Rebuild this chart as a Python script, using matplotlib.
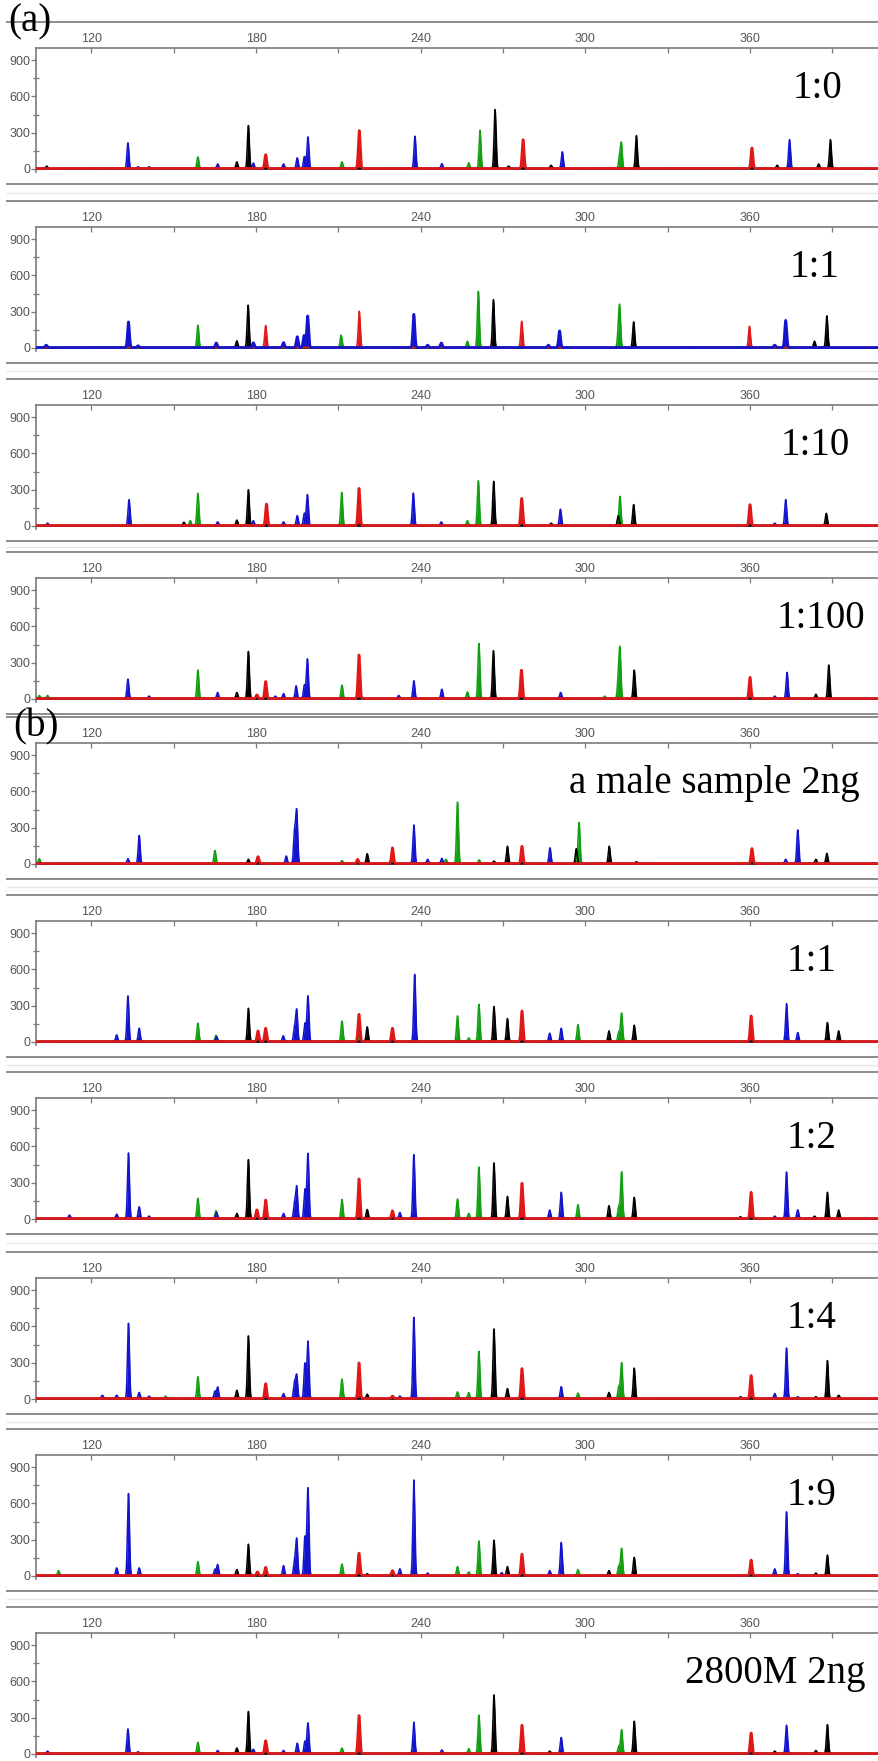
import numpy as np
import matplotlib
matplotlib.use('Agg')
import matplotlib.pyplot as plt
from matplotlib.lines import Line2D

W, H, DPI = 879, 1761, 100

# ---------------- data ----------------
x_ticks_major = [120, 180, 240, 300, 360]
x_ticks_minor = [150, 210, 270, 330, 390]
y_ticks_major = [0, 300, 600, 900]
y_ticks_minor = [150, 450, 750]

panel_labels = ['1:0', '1:1', '1:10', '1:100', 'a male sample 2ng',
                '1:1', '1:2', '1:4', '1:9', '2800M 2ng']
section_labels = ['(a)', '(b)']

# peaks per panel: size (bp), height (RFU), dye (b=blue, g=green, k=black, r=red)
p1_pos = [103.7, 133.3, 137, 141, 158.8, 166, 173, 177.2, 179, 183.5, 190, 195, 197.6, 198.9, 211.3, 217.6, 237.9, 247.7, 257.5, 261.6, 267.1, 272, 277.3, 287.5, 291.6, 312.4, 313.1, 318.6, 360.7, 369.9, 374.4, 385, 389.3]
p1_hgt = [20, 212, 15, 15, 96, 38, 55, 355, 45, 115, 38, 88, 100, 261, 55, 314, 267, 41, 47, 316, 487, 20, 239, 27, 138, 80, 206, 272, 171, 27, 239, 38, 239]
p1_dye = ['k', 'b', 'b', 'b', 'g', 'b', 'k', 'k', 'b', 'r', 'b', 'b', 'b', 'b', 'g', 'r', 'b', 'b', 'g', 'g', 'k', 'k', 'r', 'k', 'b', 'g', 'g', 'k', 'r', 'k', 'b', 'k', 'k']

p2_pos = [103.5, 133.5, 137, 158.8, 165.5, 173, 177.1, 179, 183.5, 190, 195, 197.5, 198.8, 211, 217.6, 237.5, 242.5, 247.5, 257, 261, 266.5, 276.8, 286.5, 290.6, 312, 312.5, 317.6, 359.8, 369, 373, 383.5, 388]
p2_hgt = [20, 212, 15, 184, 38, 55, 350, 40, 182, 41, 90, 100, 261, 102, 300, 275, 20, 38, 52, 465, 396, 217, 20, 138, 100, 316, 212, 176, 20, 225, 52, 261]
p2_dye = ['b', 'b', 'b', 'g', 'b', 'k', 'k', 'b', 'r', 'b', 'b', 'b', 'b', 'g', 'r', 'b', 'b', 'b', 'g', 'g', 'k', 'r', 'b', 'b', 'g', 'g', 'k', 'r', 'b', 'b', 'k', 'k']

p3_pos = [104, 133.7, 153.7, 156, 158.8, 166, 173, 177.2, 179, 183.8, 190, 195, 197.6, 198.7, 211.2, 217.5, 237.3, 247.5, 257, 261, 266.6, 276.8, 287.5, 290.9, 312, 312.6, 317.6, 360, 369, 373, 387.8]
p3_hgt = [20, 214, 27, 41, 266, 30, 45, 296, 40, 178, 30, 82, 100, 255, 274, 307, 269, 30, 40, 370, 365, 225, 20, 135, 80, 241, 173, 173, 20, 214, 101]
p3_dye = ['b', 'b', 'k', 'g', 'g', 'b', 'k', 'k', 'b', 'r', 'b', 'b', 'b', 'b', 'g', 'r', 'b', 'b', 'g', 'g', 'k', 'r', 'k', 'b', 'k', 'g', 'k', 'r', 'b', 'b', 'k']

p4_pos = [101, 104, 133.3, 141, 158.8, 166, 173, 177.2, 180.3, 183.5, 187, 190, 194.6, 197.6, 198.7, 211.3, 217.5, 232, 237.5, 247.7, 257, 261.2, 266.5, 276.7, 291, 307, 312, 312.6, 317.8, 360, 369, 373.5, 384, 388.7]
p4_hgt = [25, 25, 160, 20, 235, 50, 50, 390, 30, 141, 20, 41, 105, 110, 327, 110, 360, 25, 147, 77, 55, 455, 396, 235, 50, 20, 150, 388, 235, 175, 20, 216, 35, 277]
p4_dye = ['g', 'g', 'b', 'b', 'g', 'b', 'k', 'k', 'r', 'r', 'b', 'b', 'b', 'b', 'b', 'g', 'r', 'b', 'b', 'b', 'g', 'g', 'k', 'r', 'b', 'g', 'g', 'g', 'k', 'r', 'b', 'b', 'k', 'k']

p5_pos = [101, 133.3, 137.4, 165, 177.2, 180.7, 191, 194.0, 194.8, 211.3, 217, 220.5, 229.7, 237.5, 242.5, 247.7, 249.2, 253.4, 261.3, 266.7, 271.6, 276.9, 287.1, 296.7, 297.7, 308.7, 318.6, 360.7, 373, 377.4, 384, 388]
p5_hgt = [40, 40, 232, 108, 35, 57, 62, 250, 430, 25, 35, 81, 130, 319, 35, 43, 35, 508, 30, 20, 143, 143, 130, 122, 340, 143, 15, 124, 35, 278, 35, 84]
p5_dye = ['g', 'b', 'b', 'g', 'k', 'r', 'b', 'b', 'b', 'g', 'r', 'k', 'r', 'b', 'b', 'b', 'g', 'g', 'g', 'k', 'k', 'r', 'b', 'k', 'g', 'k', 'k', 'r', 'b', 'b', 'k', 'k']

p6_pos = [129.2, 133.3, 137.4, 158.8, 165.4, 165.6, 177.2, 180.7, 183.5, 189.9, 194.0, 194.8, 197.8, 198.9, 211.3, 217.3, 217.5, 220.5, 229.7, 237.8, 253.4, 257.5, 261.2, 266.7, 271.6, 276.9, 287, 291.2, 297.3, 308.6, 312.2, 313.2, 317.8, 360.4, 373.3, 377.4, 388.2, 392.3]
p6_hgt = [55, 377, 110, 151, 52, 40, 275, 88, 110, 47, 110, 260, 150, 377, 170, 30, 225, 121, 110, 555, 212, 30, 308, 289, 190, 253, 69, 110, 140, 88, 80, 234, 135, 212, 313, 74, 157, 88]
p6_dye = ['b', 'b', 'b', 'g', 'g', 'b', 'k', 'r', 'r', 'b', 'b', 'b', 'b', 'b', 'g', 'g', 'r', 'k', 'r', 'b', 'g', 'g', 'g', 'k', 'k', 'r', 'b', 'b', 'g', 'k', 'g', 'g', 'k', 'r', 'b', 'b', 'k', 'k']

p7_pos = [112, 129.2, 133.5, 137.4, 141, 158.8, 165.4, 165.6, 173, 177.2, 180.3, 183.5, 190, 194.0, 194.8, 197.8, 198.9, 211.3, 217.5, 220.5, 229.7, 232.4, 237.5, 253.4, 257.5, 261.2, 266.7, 271.6, 276.9, 287, 291.2, 297.3, 308.6, 312.2, 313.2, 317.8, 356.5, 360.4, 369, 373.3, 377.4, 383.5, 388.2, 392.3]
p7_hgt = [28, 36, 542, 97, 20, 167, 64, 50, 42, 487, 72, 153, 42, 120, 260, 240, 537, 158, 328, 75, 64, 50, 528, 161, 42, 425, 459, 183, 292, 70, 217, 114, 106, 100, 384, 175, 15, 217, 20, 384, 72, 20, 217, 70]
p7_dye = ['b', 'b', 'b', 'b', 'b', 'g', 'g', 'b', 'k', 'k', 'r', 'r', 'b', 'b', 'b', 'b', 'b', 'g', 'r', 'k', 'r', 'b', 'b', 'g', 'g', 'g', 'k', 'k', 'r', 'b', 'b', 'g', 'k', 'g', 'g', 'k', 'k', 'r', 'b', 'b', 'b', 'k', 'k', 'k']

p8_pos = [124, 129.2, 133.5, 137.4, 141, 147, 158.8, 165, 166, 173, 177.2, 183.5, 190, 194.0, 194.8, 197.8, 198.9, 211.3, 217.5, 220.5, 229.7, 232.4, 237.5, 253.4, 257.5, 261.2, 266.7, 271.6, 276.9, 291.2, 297.3, 308.6, 312.2, 313.2, 317.8, 356.5, 360.4, 369, 373.3, 377.4, 384, 388.2, 392.3]
p8_hgt = [27, 27, 622, 50, 20, 20, 180, 60, 95, 68, 518, 123, 40, 130, 190, 290, 472, 160, 295, 36, 20, 20, 671, 55, 50, 390, 575, 82, 248, 98, 45, 50, 100, 295, 251, 15, 191, 41, 417, 15, 15, 314, 27]
p8_dye = ['b', 'b', 'b', 'b', 'b', 'g', 'g', 'b', 'b', 'k', 'k', 'r', 'b', 'b', 'b', 'b', 'b', 'g', 'r', 'k', 'r', 'b', 'b', 'g', 'g', 'g', 'k', 'k', 'r', 'b', 'g', 'k', 'g', 'g', 'k', 'k', 'r', 'b', 'b', 'b', 'k', 'k', 'k']

p9_pos = [108, 129.2, 133.5, 137.4, 158.8, 165, 166, 173, 177.2, 180.5, 183.5, 190, 194.0, 194.8, 197.8, 198.9, 211.3, 217.5, 220.5, 229.7, 232.4, 237.5, 242.5, 253.4, 257.5, 261.2, 266.7, 269.5, 271.6, 276.9, 287, 291.2, 297.3, 308.6, 312.2, 313.2, 317.8, 360.4, 369, 373.3, 377.4, 384, 388.2]
p9_hgt = [41, 63, 677, 63, 115, 50, 90, 49, 259, 30, 68, 82, 110, 300, 320, 723, 95, 185, 15, 41, 55, 790, 20, 74, 30, 286, 292, 25, 74, 177, 41, 273, 49, 41, 80, 224, 150, 128, 55, 527, 15, 20, 169]
p9_dye = ['g', 'b', 'b', 'b', 'g', 'b', 'b', 'k', 'k', 'r', 'r', 'b', 'b', 'b', 'b', 'b', 'g', 'r', 'k', 'r', 'b', 'b', 'b', 'g', 'g', 'g', 'k', 'b', 'k', 'r', 'b', 'b', 'g', 'k', 'g', 'g', 'k', 'r', 'b', 'b', 'b', 'k', 'k']

p10_pos = [104, 133.3, 137, 158.8, 166, 173, 177.2, 179, 183.5, 190, 195, 197.8, 198.9, 211.3, 217.5, 237.5, 247.7, 257.5, 261.2, 266.7, 276.9, 287, 291.2, 312.2, 313.2, 317.8, 360.4, 369, 373.3, 384, 388.2]
p10_hgt = [20, 203, 15, 92, 25, 45, 348, 35, 106, 25, 86, 100, 253, 45, 314, 259, 30, 40, 317, 484, 234, 20, 133, 60, 197, 267, 170, 20, 234, 25, 239]
p10_dye = ['b', 'b', 'b', 'g', 'b', 'k', 'k', 'b', 'r', 'b', 'b', 'b', 'b', 'g', 'r', 'b', 'b', 'g', 'g', 'k', 'r', 'k', 'b', 'g', 'g', 'k', 'r', 'k', 'b', 'k', 'k']

panels_pos = [p1_pos, p2_pos, p3_pos, p4_pos, p5_pos, p6_pos, p7_pos, p8_pos, p9_pos, p10_pos]
panels_hgt = [p1_hgt, p2_hgt, p3_hgt, p4_hgt, p5_hgt, p6_hgt, p7_hgt, p8_hgt, p9_hgt, p10_hgt]
panels_dye = [p1_dye, p2_dye, p3_dye, p4_dye, p5_dye, p6_dye, p7_dye, p8_dye, p9_dye, p10_dye]

# ---------------- style / layout ----------------
dye_colors = {'b': '#1414cc', 'g': '#12a012', 'k': '#000000', 'r': '#e01818'}
tops_px = [48, 227, 405, 578, 743, 921, 1098, 1278, 1455, 1633]
label_cx_px = [817, 815, 815, 821, 714, 812, 812, 812, 812, 775]
PX_PER_UNIT = 0.121
YMIN, YMAX = -25, 1000
XMIN, XMAX = 99.8, 407.0
LEFT_PX = 36
SIG = 0.36

plt.rcParams['font.family'] = ['Liberation Sans', 'DejaVu Sans']
fig = plt.figure(figsize=(W / DPI, H / DPI), dpi=DPI)
fig.patch.set_facecolor('white')

def fy(px):
    return 1 - px / H

def hline(ypx, color, lw, x0=7):
    fig.add_artist(Line2D([x0 / W, 1.0], [fy(ypx), fy(ypx)], color=color, lw=lw,
                          transform=fig.transFigure, zorder=1))

xs = np.linspace(XMIN, XMAX, 9000)
ax_h = (YMAX - YMIN) * PX_PER_UNIT
serif = ['Liberation Serif', 'DejaVu Serif']

for i, top in enumerate(tops_px):
    zero = top + YMAX * PX_PER_UNIT
    # window border lines
    hline(top - 26, '#8c8c8c', 1.4)
    if zero + 15 < H:
        hline(zero + 15, '#8c8c8c', 1.4)
        if i < len(tops_px) - 1 and tops_px[i + 1] - 26 - (zero + 15) > 8:
            hline((zero + 15 + tops_px[i + 1] - 26) / 2, '#e8e8e8', 1.0)

    ax = fig.add_axes([LEFT_PX / W, fy(top + ax_h), 1 - LEFT_PX / W, ax_h / H])
    ax.set_xlim(XMIN, XMAX)
    ax.set_ylim(YMIN, YMAX)
    ax.set_facecolor('none')
    for s in ['right', 'bottom']:
        ax.spines[s].set_visible(False)
    for s in ['top', 'left']:
        ax.spines[s].set_color('#7a7a7a')
        ax.spines[s].set_linewidth(1.2)

    ax.xaxis.tick_top()
    ax.set_xticks(x_ticks_major)
    ax.set_xticks(x_ticks_minor, minor=True)
    ax.set_xticklabels([str(v) for v in x_ticks_major])
    ax.tick_params(axis='x', which='both', direction='in', length=3.5, width=0.9,
                   color='#7a7a7a', top=True, bottom=False, labeltop=True,
                   labelbottom=False, pad=2, labelsize=9, labelcolor='#555555')
    ax.set_yticks(y_ticks_major)
    ax.set_yticks(y_ticks_minor, minor=True)
    ax.set_yticklabels([str(v) for v in y_ticks_major])
    ax.tick_params(axis='y', which='major', direction='out', length=3.5, width=0.9,
                   color='#7a7a7a', pad=0.5, labelsize=9, labelcolor='#555555')
    ax.tick_params(axis='y', which='minor', direction='inout', length=4, width=0.9,
                   color='#7a7a7a')

    pos, hgt, dye = panels_pos[i], panels_hgt[i], panels_dye[i]
    order = ['g', 'k', 'r', 'b'] if i == 1 else ['g', 'b', 'k', 'r']
    for d in order:
        y = np.full_like(xs, 4.0)
        for p, h, c in zip(pos, hgt, dye):
            if c == d:
                y += h * np.exp(-0.5 * ((xs - p) / SIG) ** 2)
        col = dye_colors[d]
        ax.fill_between(xs, 0, y, color=col, lw=0, zorder=2)
        lw = 1.9 if d == order[-1] else 1.1
        ax.plot(xs, y, color=col, lw=lw, zorder=3, solid_joinstyle='round')

    # sample label
    cx = XMIN + (label_cx_px[i] - LEFT_PX) / (W - LEFT_PX) * (XMAX - XMIN)
    ax.text(cx, 590, panel_labels[i], ha='center', va='baseline', fontsize=28,
            family=serif, color='black', zorder=5)

fig.text(8 / W, fy(31), section_labels[0], fontsize=28, family=serif,
         ha='left', va='baseline', zorder=10)
fig.text(13 / W, fy(736), section_labels[1], fontsize=28, family=serif,
         ha='left', va='baseline', zorder=10)

fig.savefig('out.png', dpi=DPI, facecolor='white')
